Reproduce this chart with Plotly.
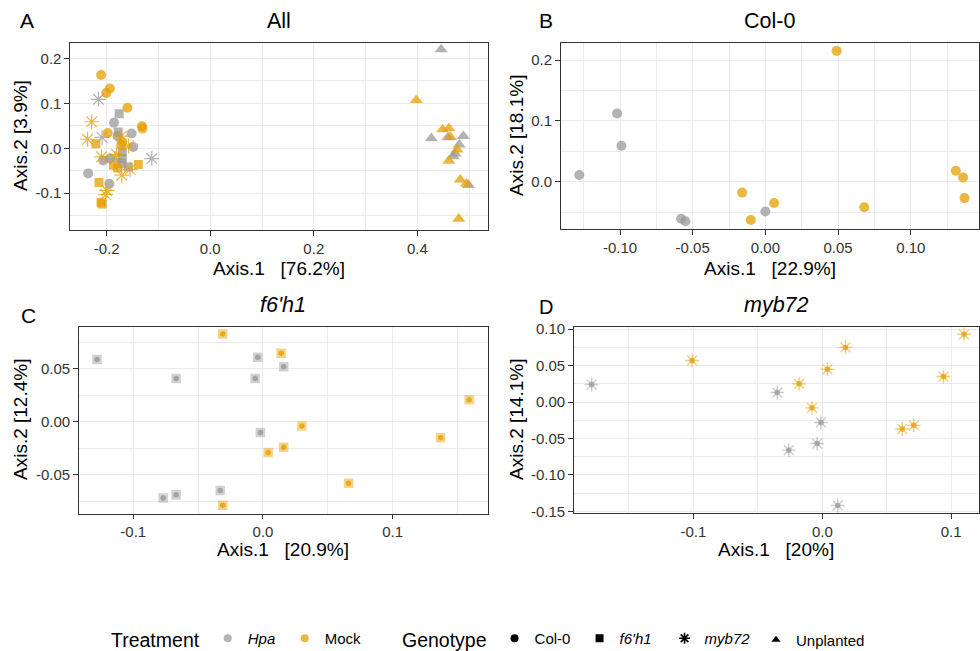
import plotly.graph_objects as go

W, H = 980, 651
GREY = "#999999"
ORANGE = "#E69F00"
FONT = "Liberation Sans, Arial, sans-serif"

# ---------------- Panel A : All ----------------
a_col0_hpa_x = [-0.186, -0.179, -0.152, -0.149, -0.207, -0.194, -0.236, -0.195]
a_col0_hpa_y = [0.057, 0.027, 0.033, 0.003, -0.027, -0.023, -0.056, -0.079]
a_col0_mock_x = [-0.211, -0.194, -0.201, -0.160, -0.132, -0.131, -0.198, -0.170, -0.172]
a_col0_mock_y = [0.163, 0.133, 0.123, 0.090, 0.049, 0.044, 0.034, 0.014, 0.007]
a_f6_hpa_x = [-0.176, -0.178, -0.170, -0.170, -0.171, -0.158]
a_f6_hpa_y = [0.077, 0.036, -0.008, -0.023, -0.034, -0.042]
a_f6_mock_x = [-0.221, -0.187, -0.179, -0.139, -0.215, -0.211, -0.209]
a_f6_mock_y = [0.010, -0.038, -0.044, -0.036, -0.076, -0.120, -0.124]
a_myb_hpa_x = [-0.216, -0.209, -0.184, -0.113]
a_myb_hpa_y = [0.109, 0.024, -0.023, -0.023]
a_myb_mock_x = [-0.229, -0.172, -0.237, -0.158, -0.210, -0.181, -0.155, -0.171, -0.200, -0.202]
a_myb_mock_y = [0.059, 0.027, 0.020, 0.005, -0.019, -0.014, -0.047, -0.060, -0.094, -0.103]
a_unp_hpa_x = [0.446, 0.459, 0.427, 0.489, 0.481, 0.473, 0.469, 0.499]
a_unp_hpa_y = [0.220, 0.024, 0.022, 0.027, 0.008, -0.012, -0.018, -0.082]
a_unp_mock_x = [0.398, 0.449, 0.461, 0.464, 0.477, 0.461, 0.483, 0.495, 0.480]
a_unp_mock_y = [0.107, 0.042, 0.044, 0.025, -0.003, -0.028, -0.070, -0.079, -0.157]

# ---------------- Panel B : Col-0 ----------------
b_hpa_x = [-0.128, -0.102, -0.099, -0.058, -0.055, 0.000]
b_hpa_y = [0.011, 0.112, 0.059, -0.061, -0.065, -0.049]
b_mock_x = [0.049, -0.016, -0.010, 0.006, 0.068, 0.131, 0.136, 0.137]
b_mock_y = [0.215, -0.018, -0.063, -0.035, -0.042, 0.018, 0.007, -0.027]

# ---------------- Panel C : f6'h1 ----------------
c_hpa_x = [-0.128, -0.067, -0.004, -0.006, 0.016, -0.002, -0.033, -0.067, -0.077]
c_hpa_y = [0.059, 0.041, 0.061, 0.041, 0.052, -0.010, -0.065, -0.069, -0.072]
c_mock_x = [-0.031, 0.014, 0.159, 0.030, 0.137, 0.016, 0.004, 0.066, -0.031]
c_mock_y = [0.083, 0.065, 0.021, -0.004, -0.015, -0.024, -0.029, -0.058, -0.079]

# ---------------- Panel D : myb72 ----------------
d_hpa_x = [-0.179, -0.035, -0.001, -0.004, -0.026, 0.012]
d_hpa_y = [0.024, 0.013, -0.028, -0.057, -0.066, -0.142]
d_mock_x = [-0.101, 0.018, 0.004, -0.018, -0.008, 0.062, 0.071, 0.094, 0.110]
d_mock_y = [0.057, 0.075, 0.045, 0.025, -0.008, -0.037, -0.032, 0.035, 0.093]

# ticks
a_xt = [-0.2, 0.0, 0.2, 0.4]; a_xl = ["-0.2", "0.0", "0.2", "0.4"]
a_yt = [-0.1, 0.0, 0.1, 0.2]; a_yl = ["-0.1", "0.0", "0.1", "0.2"]
b_xt = [-0.10, -0.05, 0.0, 0.05, 0.10]; b_xl = ["-0.10", "-0.05", "0.00", "0.05", "0.10"]
b_yt = [0.0, 0.1, 0.2]; b_yl = ["0.0", "0.1", "0.2"]
c_xt = [-0.1, 0.0, 0.1]; c_xl = ["-0.1", "0.0", "0.1"]
c_yt = [-0.05, 0.0, 0.05]; c_yl = ["-0.05", "0.00", "0.05"]
d_xt = [-0.1, 0.0, 0.1]; d_xl = ["-0.1", "0.0", "0.1"]
d_yt = [-0.15, -0.10, -0.05, 0.0, 0.05, 0.10]; d_yl = ["-0.15", "-0.10", "-0.05", "0.00", "0.05", "0.10"]


def minor_vals(major, lo, hi):
    step = major[1] - major[0]
    vals = []
    v = major[0] - step * 4.5
    while v < hi + step:
        if lo <= v <= hi:
            vals.append(round(v, 6))
        v += step
    return vals


def px_x(p):
    return p / W


def px_y(p):
    return 1 - p / H


panels = {
    "A": dict(xd=(70, 487.7), yd=(42.7, 230), xr=(-0.271, 0.536), yr=(-0.182, 0.235),
              xt=a_xt, xl=a_xl, yt=a_yt, yl=a_yl),
    "B": dict(xd=(560.7, 978.5), yd=(42.7, 229.3), xr=(-0.1408, 0.1466), yr=(-0.0783, 0.2285),
              xt=b_xt, xl=b_xl, yt=b_yt, yl=b_yl),
    "C": dict(xd=(78.7, 487.7), yd=(326.7, 513.7), xr=(-0.1421, 0.1733), yr=(-0.0869, 0.090),
              xt=c_xt, xl=c_xl, yt=c_yt, yl=c_yl),
    "D": dict(xd=(573.7, 978.5), yd=(327, 513.3), xr=(-0.1929, 0.1212), yr=(-0.1527, 0.103),
              xt=d_xt, xl=d_xl, yt=d_yt, yl=d_yl),
}

fig = go.Figure()
layout = {}
axis_common = dict(
    showline=True, linecolor="#333333", linewidth=1.1, mirror=True,
    ticks="outside", ticklen=4.5, tickwidth=1.1, tickcolor="#333333",
    showgrid=True, gridcolor="#ebebeb", gridwidth=1.1, zeroline=False,
    tickfont=dict(family=FONT, size=15, color="#333333"),
    tickmode="array", fixedrange=True, automargin=False,
)
for i, (k, p) in enumerate(panels.items()):
    n = "" if i == 0 else str(i + 1)
    layout["xaxis" + n] = dict(
        axis_common, domain=[px_x(p["xd"][0]), px_x(p["xd"][1])], range=list(p["xr"]),
        tickvals=p["xt"], ticktext=p["xl"], anchor="y" + n,
        minor=dict(tickmode="array", tickvals=minor_vals(p["xt"], *p["xr"]), showgrid=True,
                   gridcolor="#ebebeb", gridwidth=0.6, ticks=""),
    )
    layout["yaxis" + n] = dict(
        axis_common, domain=[px_y(p["yd"][1]), px_y(p["yd"][0])], range=list(p["yr"]),
        tickvals=p["yt"], ticktext=p["yl"], anchor="x" + n,
        minor=dict(tickmode="array", tickvals=minor_vals(p["yt"], *p["yr"]), showgrid=True,
                   gridcolor="#ebebeb", gridwidth=0.6, ticks=""),
    )


def add(x, y, color, symbol, size, ax, opacity=0.75, lw=0):
    marker = dict(color=color, symbol=symbol, size=size, opacity=opacity)
    if symbol.endswith("open"):
        marker["line"] = dict(width=lw, color=color)
    else:
        marker["line"] = dict(width=0)
    fig.add_trace(go.Scatter(x=x, y=y, mode="markers", marker=marker, showlegend=False,
                             hoverinfo="skip", xaxis="x" + ax, yaxis="y" + ax))


# Panel A
add(a_col0_hpa_x, a_col0_hpa_y, GREY, "circle", 10, "")
add(a_f6_hpa_x, a_f6_hpa_y, GREY, "square", 9, "")
add(a_myb_hpa_x, a_myb_hpa_y, GREY, "asterisk-open", 12.5, "", lw=1.2)
add(a_unp_hpa_x, a_unp_hpa_y, GREY, "triangle-up", 11.5, "")
add(a_col0_mock_x, a_col0_mock_y, ORANGE, "circle", 10, "")
add(a_f6_mock_x, a_f6_mock_y, ORANGE, "square", 9, "")
add(a_myb_mock_x, a_myb_mock_y, ORANGE, "asterisk-open", 12.5, "", lw=1.2)
add(a_unp_mock_x, a_unp_mock_y, ORANGE, "triangle-up", 11.5, "")
# Panel B
add(b_hpa_x, b_hpa_y, GREY, "circle", 10, "2")
add(b_mock_x, b_mock_y, ORANGE, "circle", 10, "2")
# Panel C
add(c_hpa_x, c_hpa_y, GREY, "square", 9.5, "3", opacity=0.45)
add(c_mock_x, c_mock_y, ORANGE, "square", 9.5, "3", opacity=0.45)
add(c_hpa_x, c_hpa_y, GREY, "circle", 5.5, "3", opacity=0.8)
add(c_mock_x, c_mock_y, ORANGE, "circle", 5.5, "3", opacity=0.8)
# Panel D
add(d_hpa_x, d_hpa_y, GREY, "asterisk-open", 11.5, "4", opacity=0.5, lw=1.4)
add(d_mock_x, d_mock_y, ORANGE, "asterisk-open", 11.5, "4", opacity=0.5, lw=1.4)
add(d_hpa_x, d_hpa_y, GREY, "circle", 5.5, "4", opacity=0.75)
add(d_mock_x, d_mock_y, ORANGE, "circle", 5.5, "4", opacity=0.75)

# Legend entries
treat_names = ["<i>Hpa</i>", "Mock"]
treat_colors = [GREY, ORANGE]
geno_names = ["Col-0", "<i>f6'h1</i>", "<i>myb72</i>", "Unplanted"]
geno_symbols = ["circle", "square", "asterisk-open", "triangle-up"]
for nm, col in zip(treat_names, treat_colors):
    fig.add_trace(go.Scatter(x=[None], y=[None], mode="markers", name=nm, legend="legend",
                             marker=dict(color=col, size=8, opacity=0.75, symbol="circle")))
for i, (nm, sym) in enumerate(zip(geno_names, geno_symbols)):
    mk = dict(color="black", size=8, symbol=sym)
    if sym.endswith("open"):
        mk["line"] = dict(width=1.6, color="black")
        mk["size"] = 9
    lg = "legend2" if i < len(geno_names) - 1 else "legend3"
    fig.add_trace(go.Scatter(x=[None], y=[None], mode="markers", name=nm, legend=lg,
                             marker=mk))

ann = []


def text(x, y, s, size, italic=False, angle=0):
    if italic:
        s = "<i>" + s + "</i>"
    ann.append(dict(x=px_x(x), y=px_y(y), xref="paper", yref="paper", text=s, showarrow=False,
                    xanchor="center", yanchor="middle", textangle=angle,
                    font=dict(family=FONT, size=size, color="black")))


NB = "\u00a0"
# titles & tags
text(278.8, 21, "All", 21.5)
text(27, 21, "A", 21)
text(769.5, 21, "Col-0", 21.5)
text(546, 21, "B", 21)
text(283, 305, "f6'h1", 21.5, italic=True)
text(28, 315, "C", 21)
text(776, 305, "myb72", 21.5, italic=True)
text(546, 307, "D", 20)
# axis titles
AT = 19
text(278.8, 269, "Axis.1" + NB * 3 + "[76.2%]", AT)
text(769.5, 269, "Axis.1" + NB * 3 + "[22.9%]", AT)
text(283, 549, "Axis.1" + NB * 3 + "[20.9%]", AT)
text(776, 549, "Axis.1" + NB * 3 + "[20%]", AT)
text(20, 136, "Axis.2 [3.9%]", AT, angle=-90)
text(516, 136, "Axis.2 [18.1%]", AT, angle=-90)
text(20, 420, "Axis.2 [12.4%]", AT, angle=-90)
text(516, 420, "Axis.2 [14.1%]", AT, angle=-90)

legend_common = dict(orientation="h", yanchor="middle", xanchor="left", bgcolor="rgba(0,0,0,0)",
                     font=dict(family=FONT, size=15, color="black"), itemwidth=30,
                     itemclick=False, itemdoubleclick=False)
fig.update_layout(
    **layout,
    width=W, height=H, margin=dict(l=0, r=0, t=0, b=0, autoexpand=False),
    paper_bgcolor="white", plot_bgcolor="white",
    font=dict(family=FONT, color="black"),
    annotations=ann,
    legend=dict(legend_common, x=109 / W, y=px_y(640), entrywidth=32,
                title=dict(text="Treatment", side="left", font=dict(family=FONT, size=19.5))),
    legend2=dict(legend_common, x=400 / W, y=px_y(640), entrywidth=40,
                 title=dict(text="Genotype", side="left", font=dict(family=FONT, size=19.5))),
    legend3=dict(legend_common, x=756 / W, y=px_y(640)),
    showlegend=True,
)

fig.write_html("out.html", config={"displayModeBar": False})
